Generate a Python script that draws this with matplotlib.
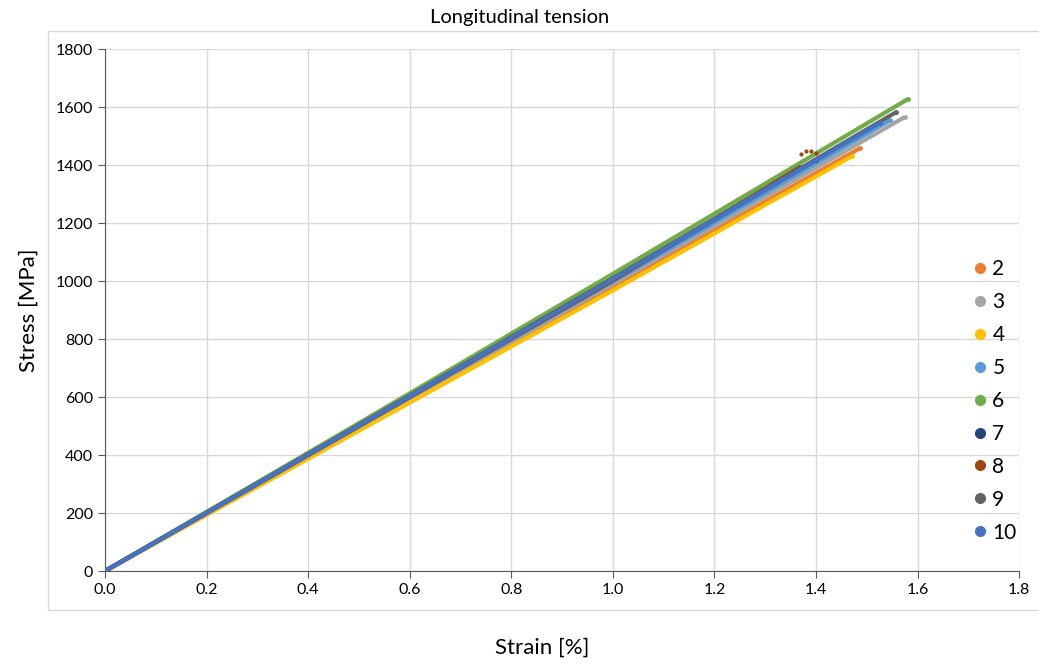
import matplotlib
matplotlib.use("Agg")
import matplotlib.pyplot as plt
from matplotlib.patches import Rectangle
from matplotlib.lines import Line2D

plt.rcParams['font.family'] = ['Lato', 'DejaVu Sans']

# Specimens and their colours (Excel palette)
specimens = ['2', '3', '4', '5', '6', '7', '8', '9', '10']
colors = ['#ED7D31', '#A5A5A5', '#FFC000', '#5B9BD5', '#70AD47',
          '#264478', '#9E480E', '#636363', '#4472C4']

# Strain [%] / stress [MPa]
strain_2 = [0.0, 0.5, 1.0, 1.487]
stress_2 = [0.0, 488, 978, 1459]
strain_3 = [0.0, 0.5, 1.0, 1.575]
stress_3 = [0.0, 494, 990, 1566]
strain_4 = [0.0, 0.5, 1.0, 1.47]
stress_4 = [0.0, 484, 968, 1430]
strain_5 = [0.0, 0.5, 1.0, 1.546]
stress_5 = [0.0, 498, 998, 1555]
strain_6 = [0.0, 0.5, 1.0, 1.581]
stress_6 = [0.0, 510, 1025, 1628]
strain_7 = [0.0, 0.5, 1.0, 1.40]
stress_7 = [0.0, 502, 1005, 1418]
strain_8 = [0.0, 0.5, 1.0, 1.37]
stress_8 = [0.0, 500, 1002, 1395]
strain_9 = [0.0, 0.5, 1.0, 1.558]
stress_9 = [0.0, 504, 1010, 1583]
strain_10 = [0.0, 0.5, 1.0, 1.525]
stress_10 = [0.0, 502, 1006, 1545]

# loose points near failure of specimen 8
strain_8_pts = [1.37, 1.38, 1.39, 1.40]
stress_8_pts = [1440, 1447, 1450, 1443]

strains = [strain_2, strain_3, strain_4, strain_5, strain_6, strain_7, strain_8, strain_9, strain_10]
stresses = [stress_2, stress_3, stress_4, stress_5, stress_6, stress_7, stress_8, stress_9, stress_10]

fig = plt.figure(figsize=(10.39, 6.64), dpi=100)
ax = fig.add_axes([0.101, 0.140, 0.880, 0.786])

# chart area border
fig.patches.append(Rectangle((0.046, 0.081), 0.96, 0.873, transform=fig.transFigure,
                             fill=False, edgecolor='#d9d9d9', linewidth=1))

for s, e, c in zip(strains, stresses, colors):
    ax.plot(s, e, color=c, linewidth=3, solid_capstyle='butt', zorder=3)
    ax.scatter(s[-1:], e[-1:], color=c, s=6, zorder=3)
ax.scatter(strain_8_pts, stress_8_pts, color=colors[6], s=4, zorder=4)

ax.set_xlim(0, 1.8)
ax.set_ylim(0, 1800)
ax.set_xticks([i * 0.2 for i in range(10)])
ax.set_xticklabels([f'{i * 0.2:.1f}' for i in range(10)])
ax.set_yticks(range(0, 1801, 200))
ax.grid(True, color='#d9d9d9', linewidth=1)
ax.set_axisbelow(True)
for side in ['top', 'right']:
    ax.spines[side].set_visible(False)
for side in ['left', 'bottom']:
    ax.spines[side].set_color('#595959')
ax.tick_params(colors='#595959', labelcolor='black', labelsize=11.5, length=5, direction='out')

fig.text(0.5, 0.974, 'Longitudinal tension', fontsize=14.5, ha='center', va='center')
fig.text(0.522, 0.024, 'Strain [%]', fontsize=16, ha='center', va='center')
ax.set_ylabel('Stress [MPa]', fontsize=16, labelpad=12)

handles = [Line2D([], [], linestyle='none', marker='o', markersize=7, color=c) for c in colors]
leg = ax.legend(handles, specimens, loc='center left', bbox_to_anchor=(0.925, 0.326),
                frameon=False, fontsize=15, handletextpad=0.1, labelspacing=0.62,
                handlelength=1.0)

fig.savefig('out.png', dpi=100, facecolor='white')
